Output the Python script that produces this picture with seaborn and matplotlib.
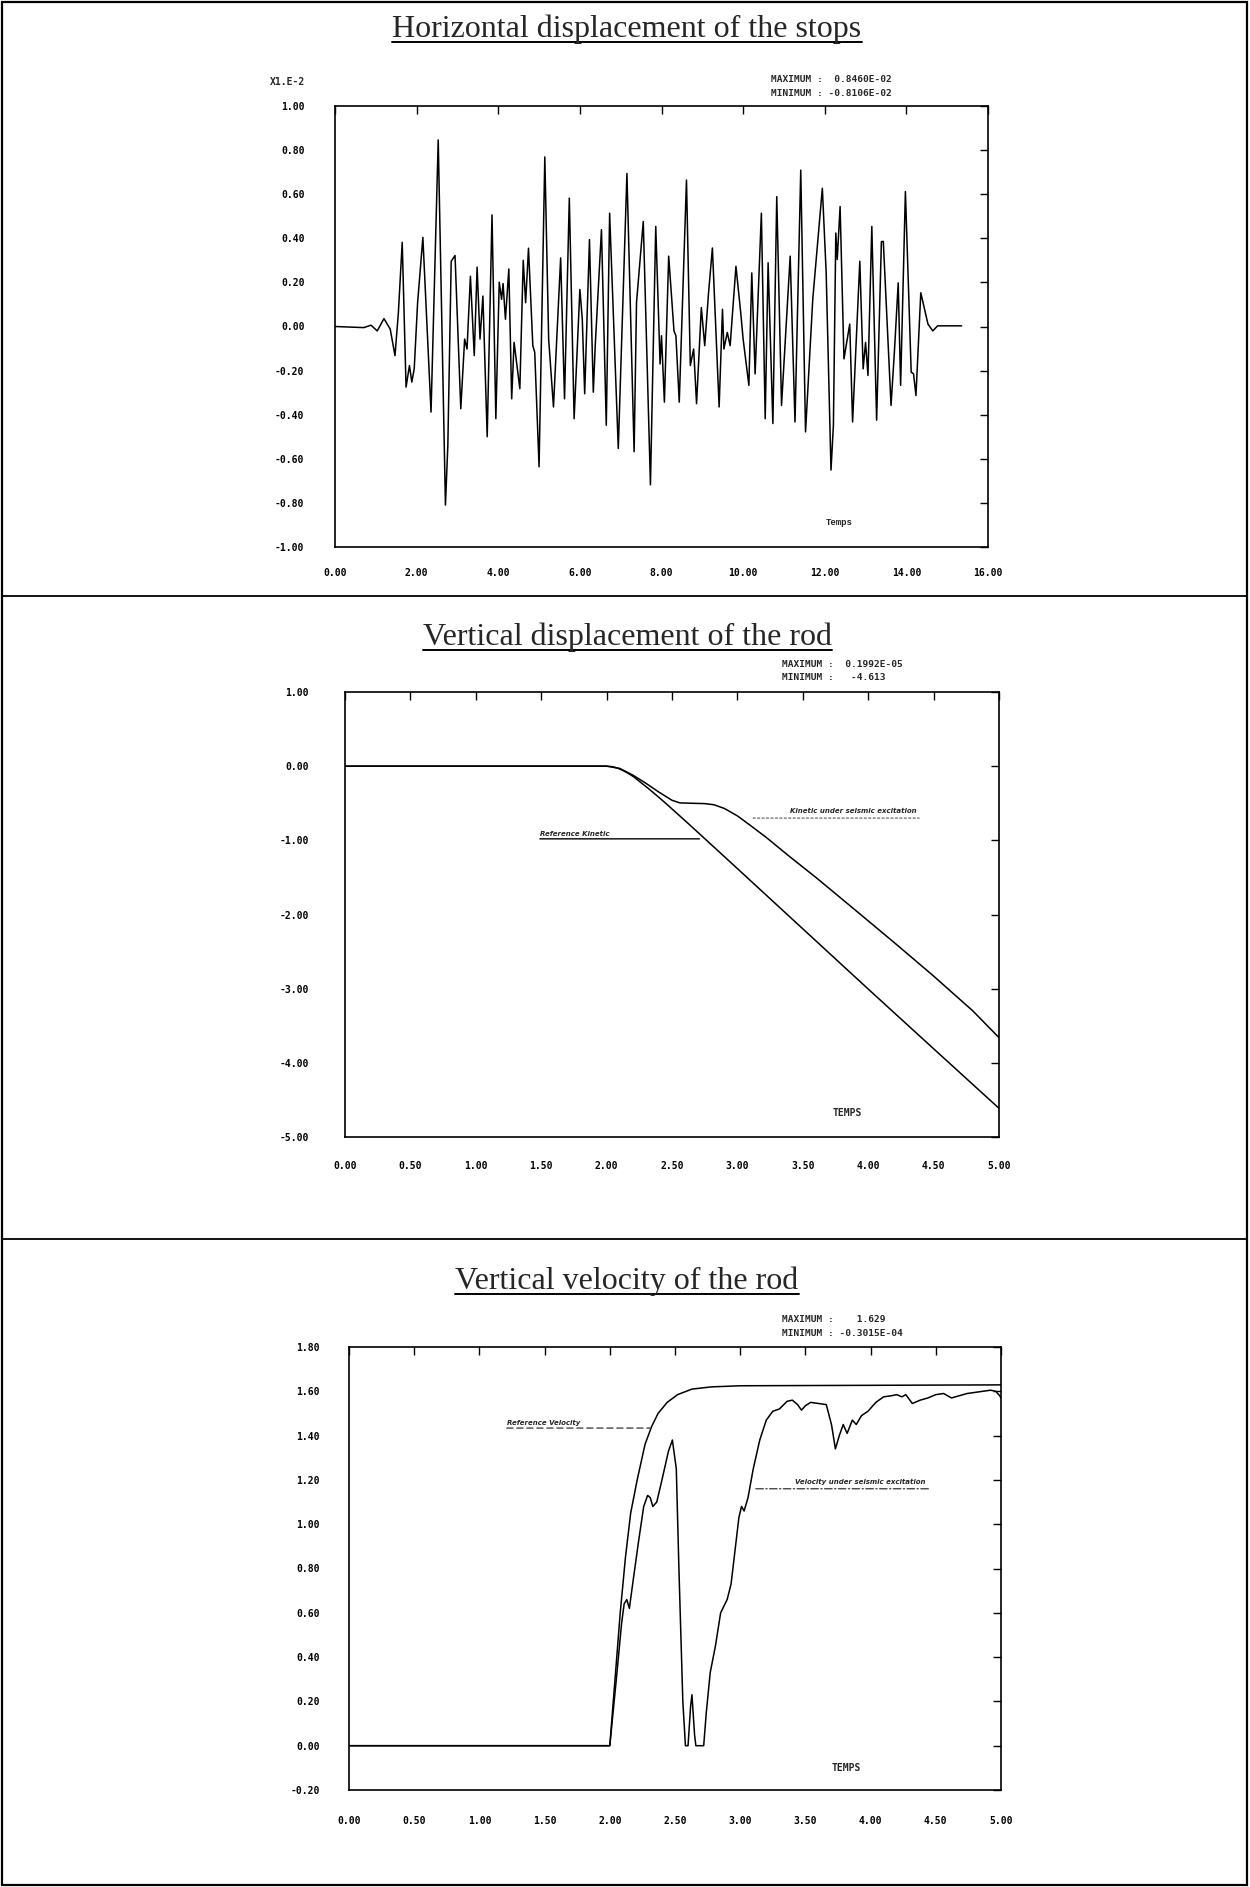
import numpy as np
import pandas as pd
import matplotlib
matplotlib.use("Agg")
import matplotlib.pyplot as plt
from matplotlib.lines import Line2D
from matplotlib.patches import Rectangle
import seaborn as sns

# ---------------- data ----------------
# Panel 1: horizontal displacement of the stops (x1.E-2)
t_h = [0.0, 0.706, 0.882, 1.035, 1.2, 1.353, 1.47, 1.553, 1.647, 1.741, 1.824, 1.882, 1.941, 2.024,
       2.153, 2.353, 2.529, 2.706, 2.765, 2.847, 2.941, 3.082, 3.176, 3.235, 3.318, 3.412, 3.482,
       3.553, 3.624, 3.729, 3.847, 3.941, 4.024, 4.082, 4.118, 4.176, 4.259, 4.329, 4.388, 4.529,
       4.612, 4.671, 4.741, 4.847, 4.894, 5.0, 5.141, 5.235, 5.353, 5.529, 5.624, 5.741, 5.859,
       6.0, 6.059, 6.118, 6.235, 6.329, 6.376, 6.529, 6.647, 6.729, 6.941, 7.153, 7.329, 7.388,
       7.553, 7.729, 7.859, 7.965, 8.0, 8.071, 8.176, 8.306, 8.353, 8.435, 8.612, 8.706, 8.788,
       8.859, 8.976, 9.059, 9.153, 9.247, 9.412, 9.494, 9.529, 9.612, 9.682, 9.824, 9.941, 10.0,
       10.141, 10.212, 10.294, 10.447, 10.541, 10.612, 10.729, 10.824, 10.941, 11.153, 11.271,
       11.412, 11.529, 11.706, 11.941, 12.035, 12.153, 12.212, 12.271, 12.306, 12.376, 12.471,
       12.612, 12.682, 12.859, 12.941, 13.0, 13.059, 13.153, 13.271, 13.388, 13.435, 13.624,
       13.706, 13.8, 13.859, 13.976, 14.118, 14.176, 14.235, 14.353, 14.529, 14.647, 14.765, 15.353]
v_h = [0.0, -0.005, 0.006, -0.02, 0.036, -0.012, -0.132, 0.063, 0.382, -0.275, -0.177, -0.252, -0.192, 0.108,
       0.404, -0.388, 0.846, -0.810, -0.538, 0.296, 0.322, -0.373, -0.057, -0.102, 0.228, -0.132, 0.269,
       -0.057, 0.138, -0.50, 0.506, -0.418, 0.201, 0.123, 0.195, 0.033, 0.261, -0.328, -0.072, -0.282,
       0.30, 0.108, 0.355, -0.087, -0.117, -0.636, 0.769, -0.057, -0.365, 0.311, -0.328, 0.582, -0.418,
       0.168, 0.033, -0.305, 0.394, -0.298, -0.087, 0.439, -0.448, 0.514, -0.553, 0.694, -0.568, 0.108,
       0.476, -0.718, 0.454, -0.170, -0.042, -0.343, 0.319, -0.020, -0.042, -0.343, 0.664, -0.177, -0.102,
       -0.350, 0.086, -0.087, 0.153, 0.356, -0.365, 0.078, -0.102, -0.027, -0.087, 0.273, 0.063, -0.057,
       -0.267, 0.243, -0.215, 0.514, -0.418, 0.289, -0.440, 0.589, -0.358, 0.319, -0.433,
       0.709, -0.478, 0.123, 0.627, 0.243, -0.651, -0.448, 0.424, 0.304, 0.544, -0.147,
       0.011, -0.433, 0.296, -0.192, -0.072, -0.222, 0.454, -0.425, 0.385, 0.386, -0.358,
       -0.117, 0.198, -0.267, 0.612, -0.207, -0.215, -0.313, 0.153, 0.011, -0.020, 0.003, 0.003]

# Panel 2: vertical displacement of the rod
t_dref = [0.0, 2.0, 2.04, 2.08, 2.12, 2.16, 2.21, 2.27, 2.32, 2.37, 2.44, 2.52, 2.63, 2.78, 3.0, 3.5, 4.0, 4.5, 5.0]
d_ref = [0.0, 0.0, -0.006, -0.024, -0.053, -0.091, -0.147, -0.232, -0.302, -0.376, -0.482, -0.608, -0.783,
         -1.025, -1.381, -2.193, -3.005, -3.81, -4.613]
t_dseis = [0.0, 2.0, 2.1, 2.2, 2.3, 2.4, 2.5, 2.56, 2.65, 2.75, 2.82, 2.9, 3.0, 3.1, 3.22, 3.4, 3.6, 3.86,
           4.2, 4.5, 4.8, 5.0]
d_seis = [0.0, 0.0, -0.03, -0.12, -0.23, -0.35, -0.46, -0.495, -0.50, -0.505, -0.52, -0.57, -0.67, -0.80,
          -0.96, -1.22, -1.5, -1.88, -2.38, -2.83, -3.3, -3.66]

# Panel 3: vertical velocity of the rod
t_vref = [0.0, 2.0, 2.04, 2.08, 2.12, 2.16, 2.21, 2.27, 2.32, 2.37, 2.44, 2.52, 2.63, 2.78, 3.0, 5.0]
v_ref = [0.0, 0.0, 0.3, 0.6, 0.85, 1.05, 1.2, 1.36, 1.44, 1.50, 1.55, 1.585, 1.61, 1.62, 1.625, 1.629]
t_vseis = [0.0, 2.0, 2.05, 2.09, 2.11, 2.13, 2.15, 2.18, 2.22, 2.26, 2.29, 2.31, 2.33, 2.36, 2.40, 2.45,
           2.48, 2.51, 2.53, 2.56, 2.58, 2.60, 2.62, 2.63, 2.65, 2.66, 2.72, 2.74, 2.77, 2.81, 2.85,
           2.90, 2.93, 2.96, 2.99, 3.01, 3.03, 3.06, 3.10, 3.15, 3.20, 3.25, 3.30, 3.36, 3.40, 3.44,
           3.47, 3.50, 3.54, 3.60, 3.66, 3.70, 3.73, 3.76, 3.79, 3.82, 3.86, 3.89, 3.93, 3.98, 4.04,
           4.10, 4.16, 4.20, 4.24, 4.27, 4.32, 4.38, 4.44, 4.50, 4.56, 4.62, 4.68, 4.74, 4.80, 4.86,
           4.92, 4.96, 4.99, 5.0]
v_seis = [0.0, 0.0, 0.3, 0.55, 0.64, 0.66, 0.62, 0.75, 0.92, 1.08, 1.13, 1.12, 1.08, 1.10, 1.2, 1.33,
          1.38, 1.25, 0.8, 0.2, 0.0, 0.0, 0.18, 0.23, 0.05, 0.0, 0.0, 0.15, 0.33, 0.45, 0.60,
          0.66, 0.73, 0.88, 1.03, 1.08, 1.06, 1.12, 1.25, 1.38, 1.47, 1.51, 1.52, 1.555, 1.56, 1.54,
          1.515, 1.535, 1.55, 1.545, 1.54, 1.45, 1.34, 1.40, 1.45, 1.41, 1.47, 1.45, 1.49, 1.51, 1.55,
          1.575, 1.58, 1.585, 1.575, 1.585, 1.545, 1.56, 1.57, 1.585, 1.59, 1.57, 1.58, 1.59, 1.595, 1.60,
          1.605, 1.60, 1.58, 1.57]

# tick values / labels
x1_ticks = [0, 2, 4, 6, 8, 10, 12, 14, 16]
x1_labels = ["0.00", "2.00", "4.00", "6.00", "8.00", "10.00", "12.00", "14.00", "16.00"]
y1_ticks = [1.0, 0.8, 0.6, 0.4, 0.2, 0.0, -0.2, -0.4, -0.6, -0.8, -1.0]
y1_labels = ["1.00", "0.80", "0.60", "0.40", "0.20", "0.00", "-0.20", "-0.40", "-0.60", "-0.80", "-1.00"]
x23_ticks = [0, 0.5, 1, 1.5, 2, 2.5, 3, 3.5, 4, 4.5, 5]
x23_labels = ["0.00", "0.50", "1.00", "1.50", "2.00", "2.50", "3.00", "3.50", "4.00", "4.50", "5.00"]
y2_ticks = [1, 0, -1, -2, -3, -4, -5]
y2_labels = ["1.00", "0.00", "-1.00", "-2.00", "-3.00", "-4.00", "-5.00"]
y3_ticks = [1.8, 1.6, 1.4, 1.2, 1.0, 0.8, 0.6, 0.4, 0.2, 0.0, -0.2]
y3_labels = ["1.80", "1.60", "1.40", "1.20", "1.00", "0.80", "0.60", "0.40", "0.20", "0.00", "-0.20"]

titles = ["Horizontal displacement of the stops", "Vertical displacement of the rod",
          "Vertical velocity of the rod"]
extrema = [("MAXIMUM :  0.8460E-02", "MINIMUM : -0.8106E-02"),
           ("MAXIMUM :  0.1992E-05", "MINIMUM :   -4.613"),
           ("MAXIMUM :    1.629", "MINIMUM : -0.3015E-04")]

# ---------------- figure ----------------
sns.set_style("white")
plt.rcParams['font.family'] = ['DejaVu Sans']
W, H = 1250, 1887
fig = plt.figure(figsize=(W / 100, H / 100), dpi=100)


def rect(l, t, r, b):
    return [l / W, 1 - b / H, (r - l) / W, (b - t) / H]


def fx(x):
    return x / W


def fy(y):
    return 1 - y / H


# outer frame and separators
fig.add_artist(Rectangle((fx(2), fy(1885)), 1245 / W, 1883 / H, fill=False, lw=1.6, ec="black",
                         transform=fig.transFigure))
for yy in (596, 1239):
    fig.add_artist(Line2D([fx(2), fx(1247)], [fy(yy), fy(yy)], lw=1.3, color="black",
                          transform=fig.transFigure))

TICKFONT = dict(fontfamily="DejaVu Sans Mono", fontweight="bold", fontsize=7)


def style(ax, xt, xl, yt, yl, xlim, ylim, xpad, ypad):
    ax.set_xlim(*xlim)
    ax.set_ylim(*ylim)
    ax.set_xticks(xt)
    ax.set_xticklabels(xl, **TICKFONT)
    ax.set_yticks(yt)
    ax.set_yticklabels(yl, **TICKFONT)
    ax.tick_params(axis="both", direction="in", length=6, width=1.0, color="black",
                   top=True, right=True, labelcolor="black")
    ax.tick_params(axis="x", pad=xpad)
    ax.tick_params(axis="y", pad=ypad)
    for s in ax.spines.values():
        s.set_linewidth(1.2)
        s.set_color("black")
    ax.set_xlabel("")
    ax.set_ylabel("")
    ax.grid(False)


LINE = dict(color="black", linewidth=1.1, estimator=None, sort=False, legend=False)

# Panel 1
ax1 = fig.add_axes(rect(335, 106, 988, 547))
sns.lineplot(x=t_h, y=v_h, ax=ax1, **LINE)
style(ax1, x1_ticks, x1_labels, y1_ticks, y1_labels, (0, 16), (-1, 1), 15, 22)
ax1.text(12.35, -0.887, "Temps", fontfamily="Liberation Mono", fontweight="bold", fontsize=6.5,
         ha="center", va="center")
fig.text(fx(287), fy(82), "X1.E-2", ha="center", va="center", **TICKFONT)

# Panel 2
ax2 = fig.add_axes(rect(345, 692, 999, 1137))
sns.lineplot(x=t_dref, y=d_ref, ax=ax2, **LINE)
sns.lineplot(x=t_dseis, y=d_seis, ax=ax2, **LINE)
style(ax2, x23_ticks, x23_labels, y2_ticks, y2_labels, (0, 5), (-5, 1), 17, 26)
LAB = dict(fontfamily="DejaVu Sans", fontweight="bold", style="italic", fontsize=5.0)
ax2.text(1.49, -0.955, "Reference Kinetic", ha="left", va="bottom", **LAB)
ax2.annotate("", xy=(2.71, -0.98), xytext=(1.49, -0.98),
             arrowprops=dict(arrowstyle="-", color="black", lw=1.0, shrinkA=0, shrinkB=0))
ax2.text(3.40, -0.64, "Kinetic under seismic excitation", ha="left", va="bottom", **LAB)
ax2.annotate("", xy=(4.39, -0.70), xytext=(3.12, -0.70),
             arrowprops=dict(arrowstyle="-", color="#555555", lw=0.8, linestyle=(0, (2, 2)),
                             shrinkA=0, shrinkB=0))
ax2.text(3.84, -4.67, "TEMPS", ha="center", va="center", **TICKFONT)

# Panel 3
ax3 = fig.add_axes(rect(349, 1347, 1001, 1790))
sns.lineplot(x=t_vref, y=v_ref, ax=ax3, **LINE)
sns.lineplot(x=t_vseis, y=v_seis, ax=ax3, **LINE)
style(ax3, x23_ticks, x23_labels, y3_ticks, y3_labels, (0, 5), (-0.2, 1.8), 19, 21)
ax3.text(1.21, 1.445, "Reference Velocity", ha="left", va="bottom", **LAB)
ax3.annotate("", xy=(2.31, 1.434), xytext=(1.21, 1.434),
             arrowprops=dict(arrowstyle="-", color="#333333", lw=0.9, linestyle=(0, (5, 3)),
                             shrinkA=0, shrinkB=0))
ax3.text(3.42, 1.178, "Velocity under seismic excitation", ha="left", va="bottom", **LAB)
ax3.annotate("", xy=(4.46, 1.16), xytext=(3.12, 1.16),
             arrowprops=dict(arrowstyle="-", color="#333333", lw=0.9, linestyle=(0, (6, 2, 1, 2)),
                             shrinkA=0, shrinkB=0))
ax3.text(3.81, -0.10, "TEMPS", ha="center", va="center", **TICKFONT)

# extrema texts
ext_pos = [(771, 79, 93), (782, 664, 677), (782, 1320, 1333)]
EXTFONT = dict(fontfamily="DejaVu Sans Mono", fontweight="bold", fontsize=6.8)
for (mx, mn), (xx, y1, y2) in zip(extrema, ext_pos):
    fig.text(fx(xx), fy(y1), mx, ha="left", va="center", **EXTFONT)
    fig.text(fx(xx), fy(y2), mn, ha="left", va="center", **EXTFONT)

# titles with underline
baselines = [37, 645, 1289]
tobjs = []
for txt, yb in zip(titles, baselines):
    tobjs.append(fig.text(fx(627), fy(yb), txt, ha="center", va="baseline",
                          fontfamily="Liberation Serif", fontsize=23))
fig.canvas.draw()
r = fig.canvas.get_renderer()
for tob, yb in zip(tobjs, baselines):
    bb = tob.get_window_extent(r)
    fig.add_artist(Line2D([bb.x0 / W, bb.x1 / W], [fy(yb + 5), fy(yb + 5)], lw=1.4, color="black",
                          transform=fig.transFigure))

fig.savefig("out.png", dpi=100)
